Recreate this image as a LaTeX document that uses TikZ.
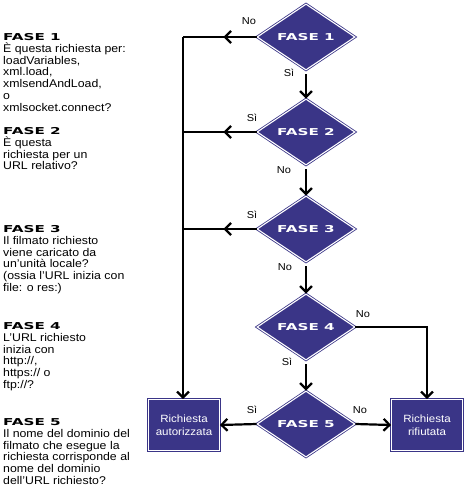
\documentclass[tikz,border=0pt]{standalone}
\usepackage{fontspec}
\setmainfont{Liberation Sans}[FakeStretch=1.1]
\newfontfamily\fasefont{DejaVu Sans Bold}[FakeStretch=1.6]
\usetikzlibrary{shapes.geometric,arrows.meta,decorations.markings}
\definecolor{fasecol}{RGB}{58,53,135}
\newcommand\fasehead[1]{{\fasefont\fontsize{9.5}{12}\selectfont #1}}
\begin{document}
\begin{tikzpicture}[x=1pt,y=-1pt,
  fase/.style={diamond, fill=fasecol, draw=fasecol, double=white, double distance=1.1pt, line width=0.8pt,
    minimum width=98pt, minimum height=66pt, inner sep=0pt, text=white, font=\fasefont\fontsize{9.5}{10}\selectfont},
  esito/.style={rectangle, fill=fasecol, draw=fasecol, double=white, double distance=1.1pt, line width=0.8pt,
    minimum width=71pt, minimum height=51pt, inner sep=0pt, text=white, align=center, font=\fontsize{10.5}{13}\selectfont},
  conn/.style={draw, line width=2.2pt},
  arrowend/.style={-{Straight Barb[length=6pt,width=12pt]}},
  midarrow/.style={postaction={decorate}, decoration={markings,
    mark=at position 0.45 with {\arrow{Straight Barb[length=6pt,width=12pt]}}}},
  risp/.style={font=\fontsize{10}{10}\selectfont, inner sep=0pt},
  nota/.style={anchor=north west, align=left, inner sep=0pt, font=\fontsize{11.2}{11.9}\selectfont}]
\useasboundingbox (0,0) rectangle (464,495);
% left column
\node[nota] (n1) at (3,33) {\fasehead{FASE 1}\\È questa richiesta per:\\loadVariables,\\xml.load,\\xmlsendAndLoad,\\o\\xmlsocket.connect?};
\node[nota] (n2) at (3,127) {\fasehead{FASE 2}\\È questa\\richiesta per un\\URL relativo?};
\node[nota] (n3) at (3,225) {\fasehead{FASE 3}\\Il filmato richiesto\\viene caricato da\\un'unità locale?\\(ossia l'URL inizia con\\file: o res:)};
\node[nota] (n4) at (3,322) {\fasehead{FASE 4}\\L'URL richiesto\\inizia con\\http://,\\https:// o\\ftp://?};
\node[nota] (n5) at (3,418) {\fasehead{FASE 5}\\Il nome del dominio del\\filmato che esegue la\\richiesta corrisponde al\\nome del dominio\\dell'URL richiesto?};
% flow
\node[fase] (f1) at (306,37) {FASE 1};
\node[fase] (f2) at (306,132) {FASE 2};
\node[fase] (f3) at (306,229) {FASE 3};
\node[fase] (f4) at (306,327) {FASE 4};
\node[fase] (f5) at (306,424) {FASE 5};
\node[esito] (ok) at (184,425) {Richiesta\\autorizzata};
\node[esito] (ko) at (427,425) {Richiesta\\rifiutata};
\coordinate (c1) at (183,37);
\node[risp] (l1n) at (249,21) {No};
\node[risp] (l1s) at (289,73) {Sì};
\node[risp] (l2s) at (252,118) {Sì};
\node[risp] (l2n) at (284,170) {No};
\node[risp] (l3s) at (252,215) {Sì};
\node[risp] (l3n) at (285,267) {No};
\node[risp] (l4n) at (363,314) {No};
\node[risp] (l4s) at (287,362) {Sì};
\node[risp] (l5s) at (252,410) {Sì};
\node[risp] (l5n) at (360,410) {No};
\path[conn,midarrow] (f1.west) -- (c1);
\path[conn,arrowend] (c1) -- (ok.north -| c1);
\path[conn,midarrow] (f2.west) -- (f2.west -| c1);
\path[conn,midarrow] (f3.west) -- (f3.west -| c1);
\path[conn,arrowend,shorten <=4pt] (f1.south) -- (f2.north);
\path[conn,arrowend,shorten <=4pt] (f2.south) -- (f3.north);
\path[conn,arrowend,shorten <=4pt] (f3.south) -- (f4.north);
\path[conn,arrowend,shorten <=4pt] (f4.south) -- (f5.north);
\path[conn,arrowend] (f4.east) -| (ko.north);
\path[conn,arrowend] (f5.west) -- (ok.east);
\path[conn,arrowend] (f5.east) -- (ko.west);
\end{tikzpicture}
\end{document}
